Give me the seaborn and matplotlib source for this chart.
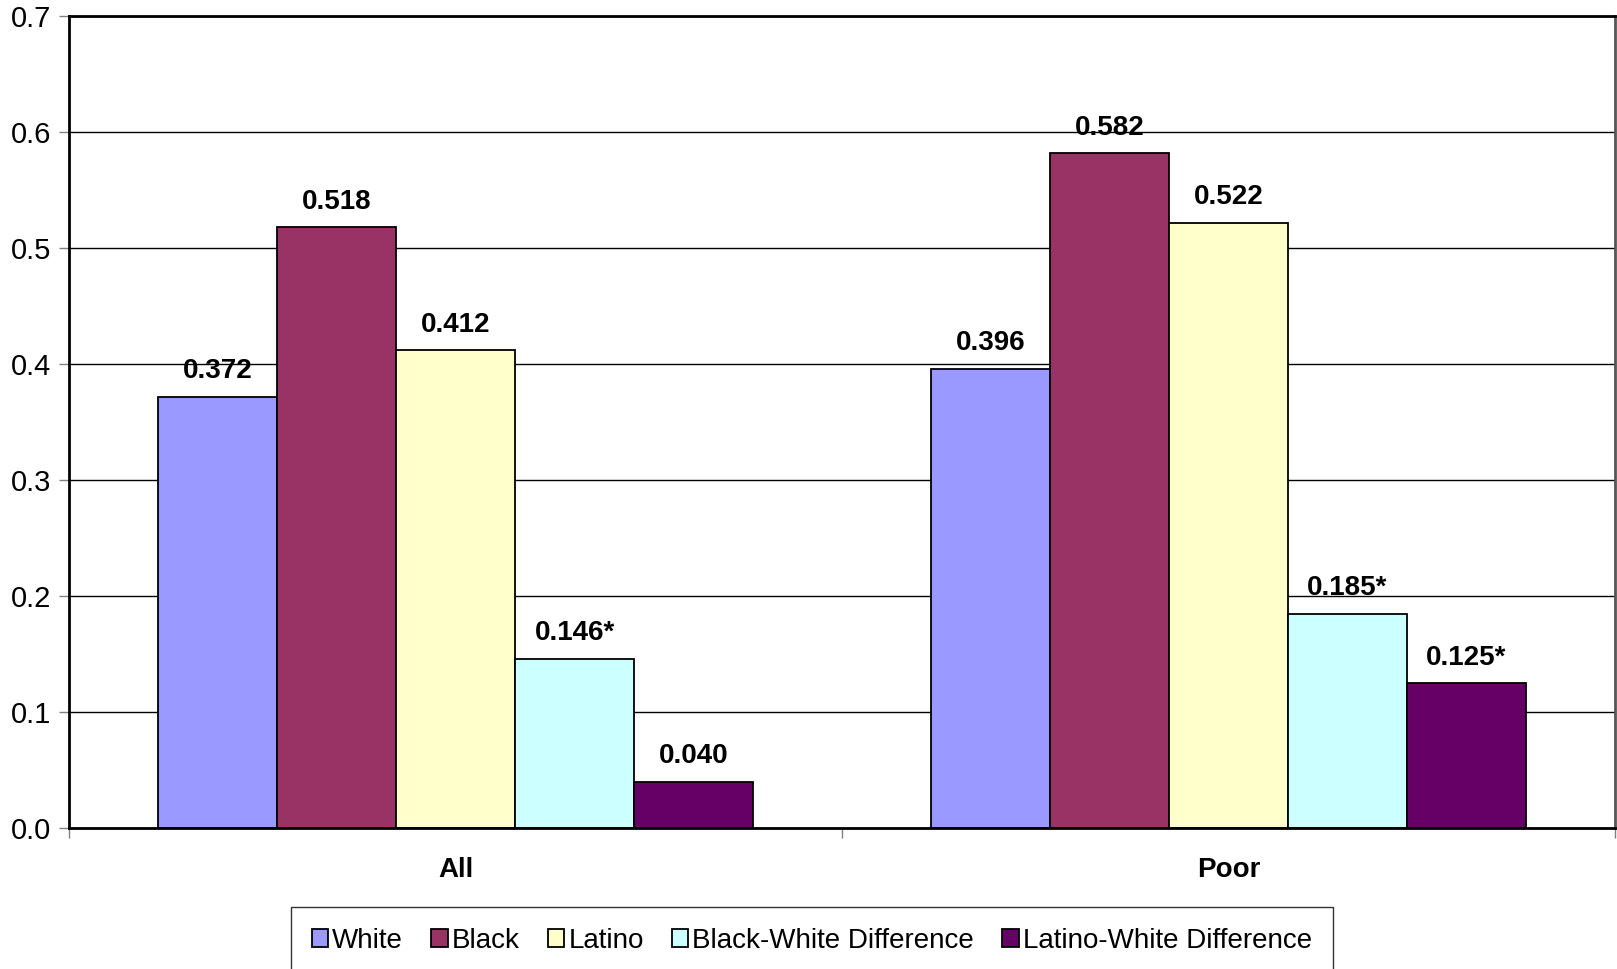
import matplotlib
matplotlib.use("Agg")
import matplotlib.pyplot as plt
import seaborn as sns
import pandas as pd
from matplotlib.ticker import FixedLocator

groups = ["All", "Poor"]
series = ["White", "Black", "Latino", "Black-White Difference", "Latino-White Difference"]
white = [0.372, 0.396]
black = [0.518, 0.582]
latino = [0.412, 0.522]
bw_diff = [0.146, 0.185]
lw_diff = [0.040, 0.125]
stars = {
    "White": ["", ""],
    "Black": ["", ""],
    "Latino": ["", ""],
    "Black-White Difference": ["*", "*"],
    "Latino-White Difference": ["", "*"],
}
colors = ["#9999FF", "#993366", "#FFFFCC", "#CCFFFF", "#660066"]

values = [white, black, latino, bw_diff, lw_diff]
rows = []
for name, vals in zip(series, values):
    for g, v in zip(groups, vals):
        rows.append({"group": g, "series": name, "value": v})
df = pd.DataFrame(rows)

sns.set_style("white")
plt.rcParams["font.family"] = ["Liberation Sans", "DejaVu Sans"]
plt.rcParams["text.color"] = "black"
plt.rcParams["xtick.color"] = "black"
plt.rcParams["ytick.color"] = "black"

fig = plt.figure(figsize=(16.17, 9.69), dpi=100)
ax = fig.add_axes([0.0427, 0.1455, 0.956, 0.8375])

sns.barplot(data=df, x="group", y="value", hue="series", hue_order=series,
            order=groups, palette=colors, width=0.77, edgecolor="black",
            linewidth=1.3, saturation=1, ax=ax)

for cont, name, vals in zip(ax.containers, series, values):
    labs = [f"{v:.3f}{s}" for v, s in zip(vals, stars[name])]
    ax.bar_label(cont, labels=labs, padding=9, fontsize=20, fontweight="bold",
                 color="black")

ax.set_xlim(-0.5, 1.5)
ax.set_ylim(0, 0.7)
ax.set_yticks([i / 10 for i in range(8)])
ax.set_yticklabels([f"{i / 10:.1f}" for i in range(8)], fontsize=21)
ax.yaxis.grid(True, color="black", linewidth=1)
ax.set_axisbelow(True)
ax.tick_params(axis="y", left=True, length=7, width=1, direction="out", pad=6,
               color="gray")

ax.set_xticks(range(len(groups)))
ax.set_xticklabels(groups, fontsize=20, fontweight="bold")
ax.tick_params(axis="x", which="major", length=0, pad=21)
ax.xaxis.set_minor_locator(FixedLocator([-0.5, 0.5, 1.5]))
ax.tick_params(axis="x", which="minor", bottom=True, length=7, width=1,
               color="gray", direction="out")
ax.set_xlabel("")
ax.set_ylabel("")

for side in ["left", "bottom", "top"]:
    ax.spines[side].set_color("black")
    ax.spines[side].set_linewidth(2)
ax.spines["right"].set_color("#555555")
ax.spines["right"].set_linewidth(2)

ax.get_legend().remove()
handles, labels = ax.get_legend_handles_labels()
leg = fig.legend(handles, labels, loc="upper center", bbox_to_anchor=(0.502, 0.064),
                 ncol=5, fontsize=20, frameon=True, fancybox=False,
                 handlelength=0.6, handleheight=0.6, handletextpad=0.15,
                 columnspacing=1.0, borderpad=0.75, borderaxespad=0)
leg.get_frame().set_edgecolor("black")
leg.get_frame().set_linewidth(1)

fig.savefig("out.png", dpi=100)
